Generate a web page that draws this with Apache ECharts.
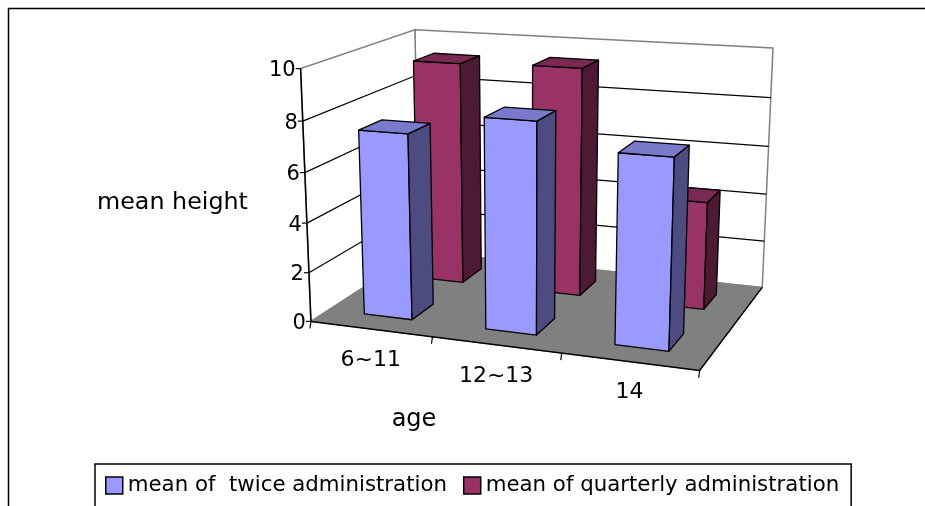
<!DOCTYPE html>
<html>
<head>
<meta charset="utf-8">
<script src="https://cdn.jsdelivr.net/npm/echarts@6/dist/echarts.min.js"></script>
<style>
  html, body { margin: 0; padding: 0; background: #fff; }
  #chart { width: 925px; height: 506px; }
</style>
</head>
<body>
<div id="chart"></div>
<script>
// ---- data ----
const ageGroups = ['6~11', '12~13', '14'];
const twiceMeans = [7.45, 8.3, 7.35];
const quarterlyMeans = [9.3, 9.4, 4.4];
const seriesNames = ['mean of  twice administration', 'mean of quarterly administration'];
const valueTicks = [0, 2, 4, 6, 8, 10];
const valueMax = 10;

// ---- camera: box-space points (u across, d into depth, t up; all 0..1) and their pixels ----
const cameraAnchors = [
  [0, 0, 0, 310, 323], [0, 0, 0.2, 310, 273], [0, 0, 0.4, 307, 223],
  [0, 0, 0.6, 305, 173], [0, 0, 0.8, 303, 122], [0, 0, 1, 300, 68],
  [1, 1, 0, 762, 288], [1, 1, 0.2, 764, 241], [1, 1, 0.4, 767, 193],
  [1, 1, 0.6, 769, 147], [1, 1, 0.8, 771, 98], [1, 1, 1, 772, 48],
  [0, 1, 0.8, 415, 77], [0, 1, 1, 416, 28],
  [1 / 3, 0, 0, 432, 336], [2 / 3, 0, 0, 562, 348], [1, 0, 0, 700, 374]
];
const FONT = '"DejaVu Sans", sans-serif';

// Linear (DLT) fit of a 3x4 projection matrix with its last entry fixed to 1
function fitCamera(pts) {
  const n = 11;
  const A = Array.from({ length: n }, () => new Array(n).fill(0));
  const b = new Array(n).fill(0);
  pts.forEach(([X, Y, Z, x, y]) => {
    const rows = [
      [[X, Y, Z, 1, 0, 0, 0, 0, -x * X, -x * Y, -x * Z], x],
      [[0, 0, 0, 0, X, Y, Z, 1, -y * X, -y * Y, -y * Z], y]
    ];
    rows.forEach(([r, rhs]) => {
      for (let i = 0; i < n; i++) {
        for (let j = 0; j < n; j++) A[i][j] += r[i] * r[j];
        b[i] += r[i] * rhs;
      }
    });
  });
  // Gaussian elimination with partial pivoting
  for (let c = 0; c < n; c++) {
    let p = c;
    for (let r = c + 1; r < n; r++) if (Math.abs(A[r][c]) > Math.abs(A[p][c])) p = r;
    [A[c], A[p]] = [A[p], A[c]];
    [b[c], b[p]] = [b[p], b[c]];
    for (let r = c + 1; r < n; r++) {
      const f = A[r][c] / A[c][c];
      for (let k = c; k < n; k++) A[r][k] -= f * A[c][k];
      b[r] -= f * b[c];
    }
  }
  const m = new Array(n).fill(0);
  for (let r = n - 1; r >= 0; r--) {
    let s = b[r];
    for (let k = r + 1; k < n; k++) s -= A[r][k] * m[k];
    m[r] = s / A[r][r];
  }
  return m;
}
const cam = fitCamera(cameraAnchors);
function project(u, d, t) {
  const w = cam[8] * u + cam[9] * d + cam[10] * t + 1;
  return [(cam[0] * u + cam[1] * d + cam[2] * t + cam[3]) / w,
          (cam[4] * u + cam[5] * d + cam[6] * t + cam[7]) / w];
}

// fractions along the hidden cartesian axes
function uOf(api, cs, idx) { return (api.coord([idx, 0])[0] - cs.x) / cs.width; }
function tOf(api, cs, value) { return (cs.y + cs.height - api.coord([0, value])[1]) / cs.height; }

// ---- walls, floor, gridlines, axes ----
function renderFrame(params, api) {
  const cs = params.coordSys;
  const children = [];
  const P = project;
  children.push({ type: 'polygon', shape: { points: [P(0, 1, 0), P(1, 1, 0), P(1, 1, 1), P(0, 1, 1)] },
    style: { fill: '#fff', stroke: '#808080', lineWidth: 1.5 } });
  children.push({ type: 'polygon', shape: { points: [P(0, 0, 0), P(0, 1, 0), P(0, 1, 1), P(0, 0, 1)] },
    style: { fill: '#fff', stroke: '#808080', lineWidth: 1.5 } });
  valueTicks.forEach(v => {
    if (v === 0 || v === valueMax) return;
    const t = tOf(api, cs, v);
    children.push({ type: 'polyline', shape: { points: [P(0, 0, t), P(0, 1, t), P(1, 1, t)] },
      style: { fill: null, stroke: '#000', lineWidth: 1.2 } });
  });
  children.push({ type: 'polygon', shape: { points: [P(0, 0, 0), P(1, 0, 0), P(1, 1, 0), P(0, 1, 0)] },
    style: { fill: '#808080', stroke: '#808080', lineWidth: 1 } });
  children.push({ type: 'polyline', shape: { points: [P(0, 0, 0), P(1, 0, 0), P(1, 1, 0)] },
    style: { fill: null, stroke: '#000', lineWidth: 1.5 } });
  children.push({ type: 'polyline', shape: { points: [P(0, 0, 0), P(0, 0, 1)] },
    style: { fill: null, stroke: '#000', lineWidth: 1.5 } });
  valueTicks.forEach(v => {
    const p = P(0, 0, tOf(api, cs, v));
    children.push({ type: 'line', shape: { x1: p[0], y1: p[1], x2: p[0] - 5, y2: p[1] },
      style: { stroke: '#000', lineWidth: 1.2 } });
    children.push({ type: 'text', style: { text: String(v), x: p[0] - 5, y: p[1] + 2,
      align: 'right', verticalAlign: 'middle', textAlign: 'right', textVerticalAlign: 'middle',
      font: '21px ' + FONT, fill: '#000' } });
  });
  for (let k = 0; k <= ageGroups.length; k++) {
    const p = P(k / ageGroups.length, 0, 0);
    children.push({ type: 'line', shape: { x1: p[0], y1: p[1], x2: p[0] - 1, y2: p[1] + 7 },
      style: { stroke: '#000', lineWidth: 1.2 } });
  }
  ageGroups.forEach((name, k) => {
    const p = P(uOf(api, cs, k), 0, 0);
    children.push({ type: 'text', style: { text: name, x: p[0], y: p[1] + 31,
      align: 'center', verticalAlign: 'middle', textAlign: 'center', textVerticalAlign: 'middle',
      font: '22px ' + FONT, fill: '#000' } });
  });
  return { type: 'group', children };
}

// ---- one row of 3D columns ----
function columnRenderer(row, faces) {
  return function (params, api) {
    const cs = params.coordSys;
    const idx = api.value(0);
    const uc = uOf(api, cs, idx);
    const half = api.size([1, 0])[0] / cs.width * 0.2;
    const t = tOf(api, cs, api.value(1));
    const u0 = uc - half, u1 = uc + half;
    const d0 = row * 0.5 + 0.15, d1 = d0 + 0.2;
    const P = project;
    const edge = { stroke: '#000', lineWidth: 1.3, lineJoin: 'round' };
    return { type: 'group', children: [
      { type: 'polygon', shape: { points: [P(u0, d0, 0), P(u1, d0, 0), P(u1, d0, t), P(u0, d0, t)] },
        style: Object.assign({ fill: faces.front }, edge) },
      { type: 'polygon', shape: { points: [P(u1, d0, 0), P(u1, d1, 0), P(u1, d1, t), P(u1, d0, t)] },
        style: Object.assign({ fill: faces.side }, edge) },
      { type: 'polygon', shape: { points: [P(u0, d0, t), P(u1, d0, t), P(u1, d1, t), P(u0, d1, t)] },
        style: Object.assign({ fill: faces.top }, edge) }
    ] };
  };
}

const blueFaces = { front: '#9999FF', side: '#4C4C80', top: '#7A7ACC' };
const redFaces = { front: '#993366', side: '#4D1A33', top: '#7A2952' };

const chart = echarts.init(document.getElementById('chart'), null, { renderer: 'canvas' });
chart.setOption({
  animation: false,
  backgroundColor: '#fff',
  grid: { left: 0, top: 0, width: 900, height: 500 },
  xAxis: { type: 'category', data: ageGroups, show: false },
  yAxis: { type: 'value', min: 0, max: valueMax, interval: 2, show: false },
  legend: {
    data: seriesNames, left: 95, top: 464, padding: [11, 12, 11, 10],
    itemGap: 16, itemWidth: 17, itemHeight: 17, icon: 'rect',
    borderColor: '#000', borderWidth: 1.5, selectedMode: false,
    itemStyle: { borderColor: '#000', borderWidth: 1.5 },
    textStyle: { fontFamily: FONT, fontSize: 21.3, color: '#000', lineHeight: 17 }
  },
  graphic: [
    { type: 'polyline', shape: { points: [[8.5, 506], [8.5, 8.5], [925, 8.5]] },
      style: { fill: null, stroke: '#000', lineWidth: 1.5 } },
    { type: 'text', x: 97, y: 203, style: { text: 'mean height', font: '23.8px ' + FONT, fill: '#000',
      align: 'left', verticalAlign: 'middle' } },
    { type: 'text', x: 414, y: 420, style: { text: 'age', font: '24px ' + FONT, fill: '#000',
      align: 'center', verticalAlign: 'middle' } }
  ],
  series: [
    { type: 'custom', name: 'frame', data: [[0, 0]], renderItem: renderFrame, silent: true },
    { type: 'custom', name: seriesNames[1], data: quarterlyMeans.map((v, i) => [i, v]),
      encode: { x: 0, y: 1 }, itemStyle: { color: redFaces.front }, renderItem: columnRenderer(1, redFaces) },
    { type: 'custom', name: seriesNames[0], data: twiceMeans.map((v, i) => [i, v]),
      encode: { x: 0, y: 1 }, itemStyle: { color: blueFaces.front }, renderItem: columnRenderer(0, blueFaces) }
  ]
});
</script>
</body>
</html>
